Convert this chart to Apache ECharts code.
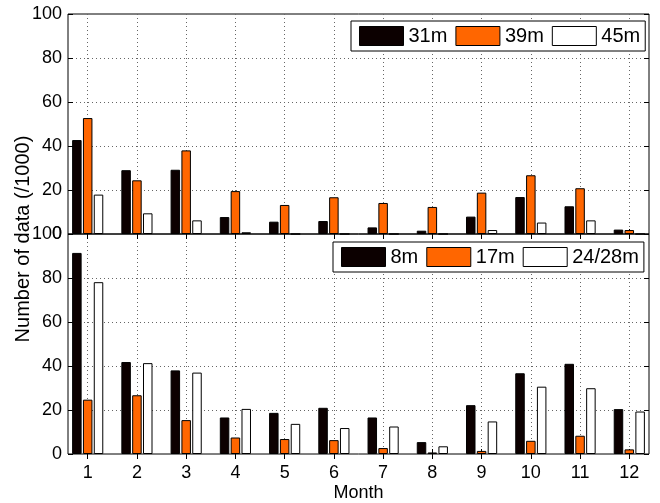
<!DOCTYPE html>
<html>
<head>
<meta charset="utf-8">
<script src="https://cdn.jsdelivr.net/npm/echarts@6/dist/echarts.min.js"></script>
<style>
  html, body { margin: 0; padding: 0; background: #fff; }
  #chart { width: 660px; height: 503px; }
</style>
</head>
<body>
<div id="chart"></div>
<script>
// Monthly counts of data (thousands) per measurement height
const months = [1, 2, 3, 4, 5, 6, 7, 8, 9, 10, 11, 12];
const yTicks = [0, 20, 40, 60, 80, 100];

// Upper panel: 31 m, 39 m, 45 m
const upperNames = ['31m', '39m', '45m'];
const h31 = [42.7, 29.0, 29.2, 7.7, 5.6, 5.9, 3.0, 1.5, 7.9, 16.8, 12.6, 2.0];
const h39 = [52.7, 24.4, 38.0, 19.5, 13.2, 16.7, 14.1, 12.3, 18.8, 26.7, 20.8, 1.8];
const h45 = [17.9, 9.4, 6.2, 0.8, 0, 0, 0, 0, 1.8, 5.2, 6.2, 0];

// Lower panel: 8 m, 17 m, 24/28 m
const lowerNames = ['8m', '17m', '24/28m'];
const h8 = [91.4, 41.8, 38.0, 16.6, 18.7, 21.0, 16.6, 5.4, 22.2, 36.7, 41.0, 20.4];
const h17 = [24.7, 26.7, 15.4, 7.5, 6.8, 6.3, 2.7, 0.7, 1.4, 6.0, 8.3, 2.1];
const h24 = [78.1, 41.3, 37.0, 20.5, 13.7, 11.8, 12.5, 3.5, 14.8, 30.6, 29.9, 19.3];

const barColors = ['#0c0000', '#ff6600', '#ffffff'];
const FONT = "'Liberation Sans', Arial, Helvetica, sans-serif";

const chart = echarts.init(document.getElementById('chart'), null, { renderer: 'canvas' });

function xAxisFor(gridIndex, position, withLabels) {
  return {
    type: 'value', gridIndex: gridIndex, position: position,
    min: 0.6, max: 12.4,
    axisLine: { show: false },
    axisTick: { show: true, inside: true, length: 5, customValues: months,
                lineStyle: { color: '#000', width: 1 } },
    axisLabel: { show: withLabels, customValues: months, margin: 10,
                 color: '#000', fontSize: 18, fontFamily: FONT },
    splitLine: { show: position === 'bottom',
                 lineStyle: { color: '#666', width: 1, type: [1, 3] } },
    name: (withLabels ? 'Month' : ''),
    nameLocation: 'middle', nameGap: 30,
    nameTextStyle: { color: '#000', fontSize: 18, fontFamily: FONT }
  };
}

function yAxisFor(gridIndex, position, withLabels) {
  return {
    type: 'value', gridIndex: gridIndex, position: position,
    min: yTicks[0], max: yTicks[yTicks.length - 1], interval: 20,
    axisLine: { show: false },
    axisTick: { show: true, inside: true, length: 5, lineStyle: { color: '#000', width: 1 } },
    axisLabel: { show: withLabels, margin: 6, color: '#000', fontSize: 18, fontFamily: FONT },
    splitLine: { show: position === 'left', showMinLine: false, showMaxLine: false,
                 lineStyle: { color: '#666', width: 1, type: [1, 3] } }
  };
}

function pairs(vals) {
  return months.map((m, i) => [m, vals[i]]);
}

function barSeries(name, vals, colorIndex, axisIndex) {
  return {
    type: 'bar', name: name,
    xAxisIndex: axisIndex, yAxisIndex: axisIndex,
    data: pairs(vals),
    barWidth: 9.5, barGap: '14%',
    itemStyle: { color: barColors[colorIndex], borderColor: '#000', borderWidth: 1 },
    emphasis: { disabled: true },
    animation: false
  };
}

function legendFor(names, left, top) {
  return {
    data: names, left: left, top: top, orient: 'horizontal',
    padding: [5, 5, 5, 8], itemGap: 8, itemWidth: 44, itemHeight: 19,
    backgroundColor: '#fff', borderColor: '#000', borderWidth: 1, borderRadius: 0,
    icon: 'rect',
    itemStyle: { borderColor: '#000', borderWidth: 1 },
    textStyle: { color: '#000', fontSize: 20, fontFamily: FONT },
    selectedMode: false
  };
}

const option = {
  backgroundColor: '#fff',
  animation: false,
  grid: [
    { left: 68, right: 11, top: 14, height: 220, show: true,
      borderColor: '#000', borderWidth: 1, backgroundColor: 'transparent' },
    { left: 68, right: 11, top: 234, height: 221, show: true,
      borderColor: '#000', borderWidth: 1, backgroundColor: 'transparent' }
  ],
  xAxis: [
    xAxisFor(0, 'bottom', false),
    xAxisFor(1, 'bottom', true),
    xAxisFor(0, 'top', false),
    xAxisFor(1, 'top', false)
  ],
  yAxis: [
    yAxisFor(0, 'left', true),
    yAxisFor(1, 'left', true),
    yAxisFor(0, 'right', false),
    yAxisFor(1, 'right', false)
  ],
  legend: [
    legendFor(upperNames, 351, 21),
    legendFor(lowerNames, 333, 242)
  ],
  series: [
    barSeries(upperNames[0], h31, 0, 0),
    barSeries(upperNames[1], h39, 1, 0),
    barSeries(upperNames[2], h45, 2, 0),
    barSeries(lowerNames[0], h8, 0, 1),
    barSeries(lowerNames[1], h17, 1, 1),
    barSeries(lowerNames[2], h24, 2, 1)
  ],
  graphic: [{
    type: 'text', x: 23, y: 239, rotation: Math.PI / 2,
    style: { text: 'Number of data (/1000)', fill: '#000',
             font: '20px ' + FONT, align: 'center', verticalAlign: 'middle' }
  }]
};

chart.setOption(option);
</script>
</body>
</html>
